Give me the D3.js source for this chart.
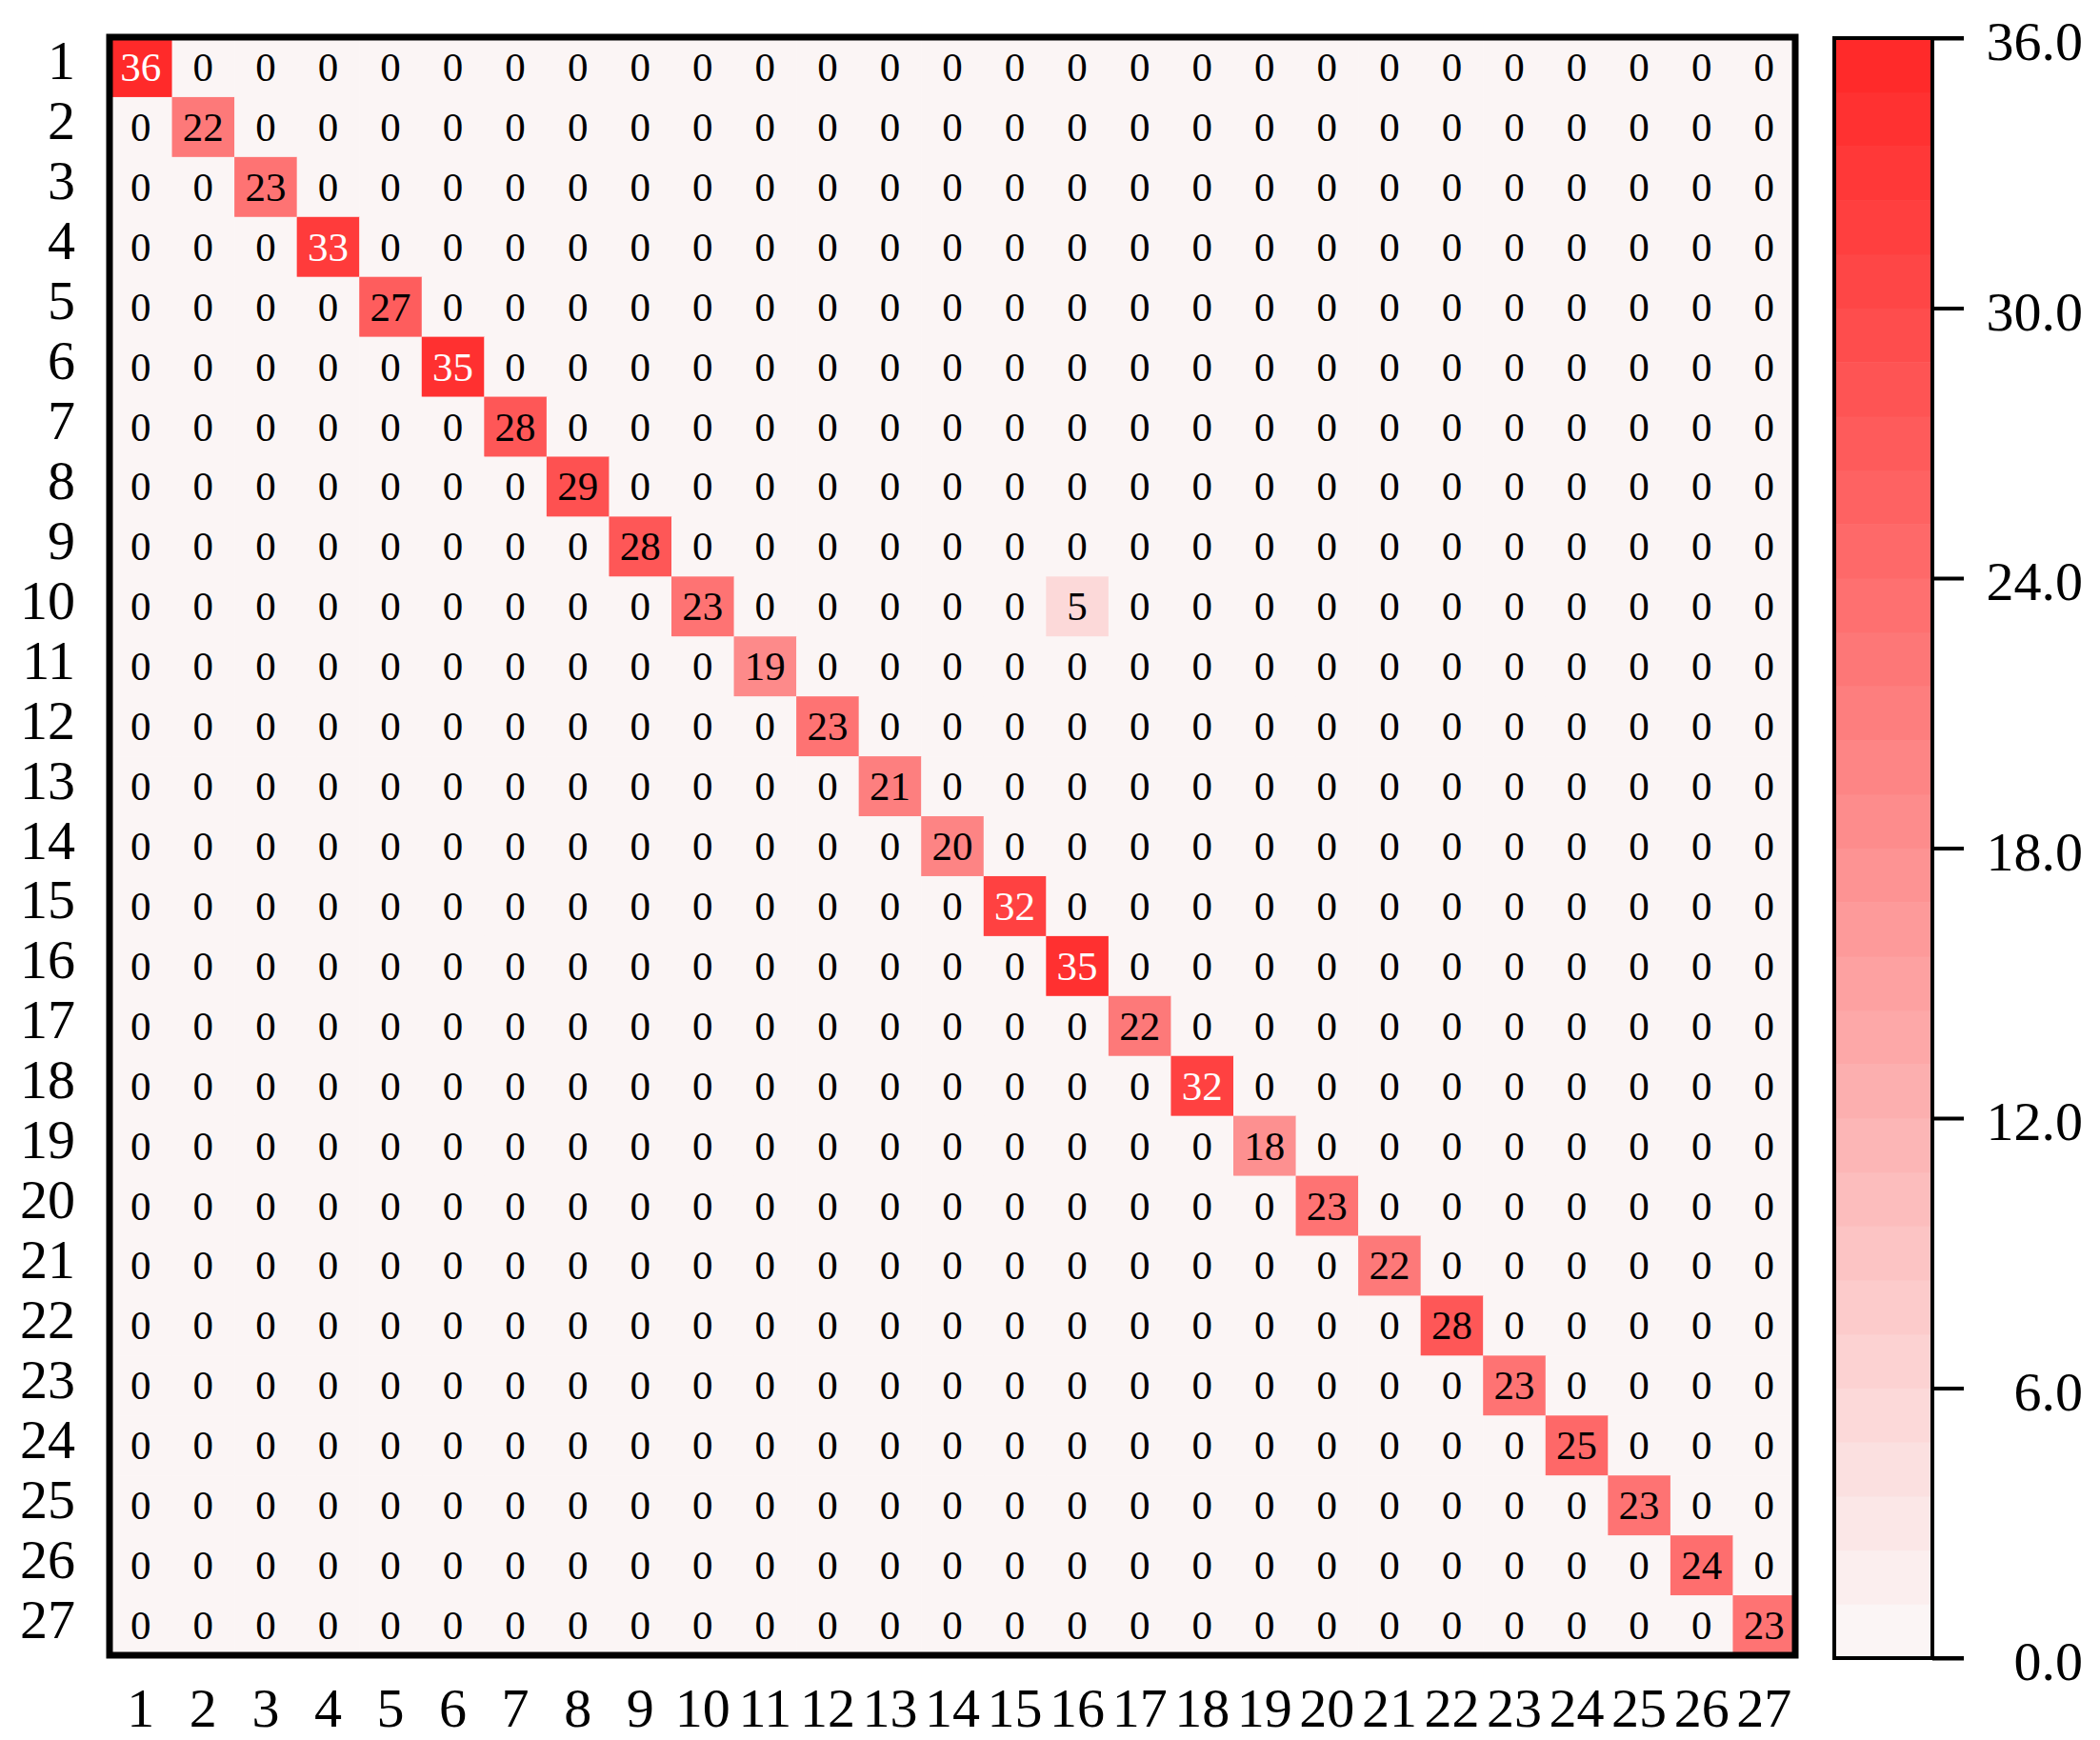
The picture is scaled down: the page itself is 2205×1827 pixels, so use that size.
<!DOCTYPE html>
<html>
<head>
<meta charset="utf-8">
<script src="https://cdn.jsdelivr.net/npm/d3@7"></script>
<style>
  html, body { margin: 0; padding: 0; background: #fff; }
  svg text { font-family: "Liberation Serif", "DejaVu Serif", serif; }
</style>
</head>
<body>
<svg id="chart" width="2205" height="1827"></svg>
<script>
// class labels (rows = true, cols = predicted)
var classes = ["1","2","3","4","5","6","7","8","9","10","11","12","13","14","15","16","17","18","19","20","21","22","23","24","25","26","27"];
// diagonal counts, row by row
var diagonal = [36,22,23,33,27,35,28,29,28,23,19,23,21,20,32,35,22,32,18,23,22,28,23,25,23,24,23];
// off-diagonal non-zero cells [row, col, value]
var offDiag = [["10","16",5]];
var cbTicks = [0, 6, 12, 18, 24, 30, 36];
var cbBands = 30;

var svg = d3.select("#chart"),
  margin = { top: 39, left: 115 },
  width = 1770,
  height = 1699;

// build cells
var cells = [];
classes.forEach((r, i) => {
  classes.forEach((c, j) => {
    cells.push({ row: r, col: c, value: i == j ? diagonal[i] : 0 });
  });
});
offDiag.forEach(d => {
  cells.find(e => e.row == d[0] && e.col == d[1]).value = d[2];
});

var vmax = d3.max(cbTicks);
var color = d3.scaleLinear().domain([0, vmax]).range(["#fbf5f5", "#ff2a2a"]).interpolate(d3.interpolateRgb);

var x = d3.scaleBand().domain(classes).range([margin.left, margin.left + width]);
var y = d3.scaleBand().domain(classes).range([margin.top, margin.top + height]);

var g = svg.append("g");
g.selectAll("rect.cell").data(cells).join("rect").attr("class", "cell")
  .attr("x", d => x(d.col)).attr("y", d => y(d.row))
  .attr("width", x.bandwidth() + 0.5).attr("height", y.bandwidth() + 0.5)
  .attr("fill", d => color(d.value));

g.selectAll("text.val").data(cells).join("text").attr("class", "val")
  .attr("x", d => x(d.col) + x.bandwidth() / 2)
  .attr("y", d => y(d.row) + y.bandwidth() / 2 + 14.5)
  .attr("text-anchor", "middle")
  .attr("font-size", 43)
  .attr("fill", d => d.value > 30 ? "#fff" : "#000")
  .text(d => d.value);

// frame
svg.append("rect")
  .attr("x", margin.left).attr("y", margin.top)
  .attr("width", width).attr("height", height)
  .attr("fill", "none").attr("stroke", "#000").attr("stroke-width", 7);

// row labels
svg.selectAll("text.rowlab").data(classes).join("text").attr("class", "rowlab")
  .attr("x", 79)
  .attr("y", d => y(d) + y.bandwidth() / 2 + 13)
  .attr("text-anchor", "end")
  .attr("font-size", 58)
  .text(d => d);

// column labels
svg.selectAll("text.collab").data(classes).join("text").attr("class", "collab")
  .attr("x", d => x(d) + x.bandwidth() / 2)
  .attr("y", 1813)
  .attr("text-anchor", "middle")
  .attr("font-size", 58)
  .text(d => d);

//---------------- colour bar
var cb = { x: 1926, y: 40, w: 103, h: 1701 };
var cy = d3.scaleLinear().domain([0, vmax]).range([cb.y + cb.h, cb.y]);
var bands = d3.range(cbBands);
var bandH = cb.h / cbBands;
svg.selectAll("rect.band").data(bands).join("rect").attr("class", "band")
  .attr("x", cb.x).attr("width", cb.w)
  .attr("y", i => cb.y + cb.h - (i + 1) * bandH)
  .attr("height", bandH + 0.5)
  .attr("fill", i => color(i * vmax / (cbBands - 1)));

svg.append("rect")
  .attr("x", cb.x).attr("y", cb.y).attr("width", cb.w).attr("height", cb.h)
  .attr("fill", "none").attr("stroke", "#000").attr("stroke-width", 4);

var cbAxis = svg.append("g")
  .attr("transform", "translate(" + (cb.x + cb.w) + ",0)")
  .call(d3.axisRight(cy).tickValues(cbTicks).tickSize(33).tickPadding(0).tickFormat(d3.format(".1f")));
cbAxis.select(".domain").remove();
cbAxis.selectAll(".tick line").attr("stroke", "#000").attr("stroke-width", 4);
cbAxis.selectAll(".tick text")
  .attr("x", 2187 - cb.x - cb.w)
  .attr("dy", null)
  .attr("y", 22.5)
  .attr("text-anchor", "end")
  .attr("font-size", 58)
  .attr("font-family", "Liberation Serif, DejaVu Serif, serif")
  .attr("fill", "#000");
// top and bottom edges carry the tick line across the bar
svg.selectAll("line.edge").data([0, vmax]).join("line").attr("class", "edge")
  .attr("x1", cb.x - 2).attr("x2", cb.x + cb.w + 33)
  .attr("y1", d => cy(d)).attr("y2", d => cy(d))
  .attr("stroke", "#000").attr("stroke-width", 4);
</script>
</body>
</html>
